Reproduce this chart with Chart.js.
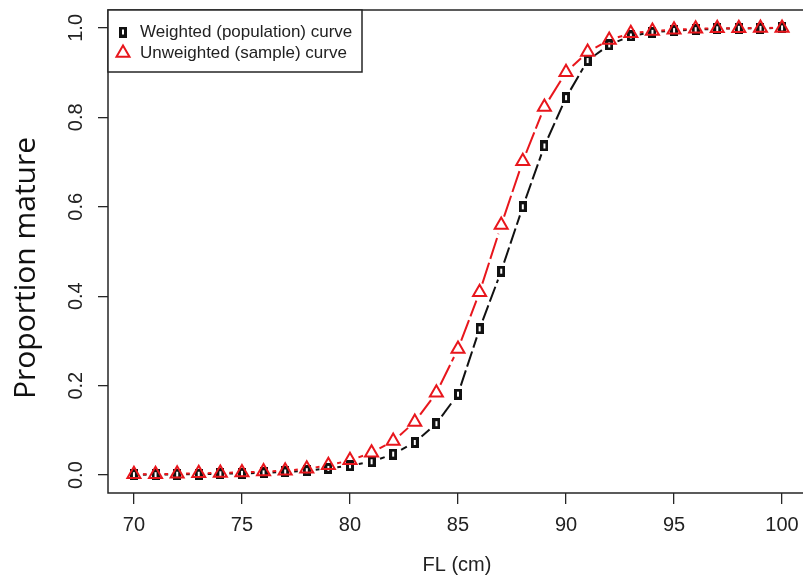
<!DOCTYPE html>
<html>
<head>
<meta charset="utf-8">
<script src="https://cdn.jsdelivr.net/npm/chart.js@4.4.1/dist/chart.umd.min.js"></script>
<style>
  html, body { margin: 0; padding: 0; background: #fff; overflow: hidden; }
  #wrap { width: 803px; height: 579px; }
</style>
</head>
<body>
<div id="wrap"><canvas id="chart" width="803" height="579"></canvas></div>
<script>
// fork length (cm), 70..100
const lengths = [70, 71, 72, 73, 74, 75, 76, 77, 78, 79, 80, 81, 82, 83, 84, 85,
  86, 87, 88, 89, 90, 91, 92, 93, 94, 95, 96, 97, 98, 99, 100];

const weighted = [0.001, 0.001, 0.002, 0.002, 0.003, 0.004, 0.005, 0.007, 0.010, 0.015,
  0.021, 0.030, 0.047, 0.073, 0.115, 0.181, 0.327, 0.456, 0.600, 0.736,
  0.844, 0.927, 0.962, 0.982, 0.990, 0.994, 0.996, 0.998, 0.999, 0.999, 1.000];

const unweighted = [0.002, 0.002, 0.003, 0.004, 0.005, 0.006, 0.008, 0.010, 0.014, 0.022,
  0.033, 0.050, 0.076, 0.119, 0.184, 0.282, 0.409, 0.559, 0.702, 0.823,
  0.901, 0.946, 0.973, 0.988, 0.993, 0.996, 0.998, 0.999, 0.999, 1.000, 1.000];

const xTicks = [70, 75, 80, 85, 90, 95, 100];
const yTicks = [0, 0.2, 0.4, 0.6, 0.8, 1.0];
const yTickLabels = ["0.0", "0.2", "0.4", "0.6", "0.8", "1.0"];

const legendLabels = ["Weighted (population) curve", "Unweighted (sample) curve"];

const RED = "#e8161c";
const BLACK = "#111111";
const AXIS = "#262626";
const TEXT = "#222222";

// tall open square, like R's pch 0 squeezed
const squareMark = document.createElement("canvas");
squareMark.width = 8;
squareMark.height = 11;
(() => {
  const c = squareMark.getContext("2d");
  c.fillStyle = BLACK;
  c.fillRect(0, 0, 8, 11);
  c.fillStyle = "#ffffff";
  c.fillRect(3, 3, 2, 5);
})();

// R type="b": dashed segments that stop short of each point
const gappedLines = {
  id: "gappedLines",
  beforeDatasetsDraw(chart) {
    const { ctx, chartArea } = chart;
    ctx.save();
    ctx.beginPath();
    ctx.rect(chartArea.left, chartArea.top, chartArea.right - chartArea.left, chartArea.bottom - chartArea.top);
    ctx.clip();
    [1, 0].forEach((i) => {
      const ds = chart.data.datasets[i];
      const pts = chart.getDatasetMeta(i).data;
      ctx.strokeStyle = ds.borderColor;
      ctx.lineWidth = 2;
      ctx.setLineDash(ds.segDash);
      const gap = 9;
      for (let j = 0; j < pts.length - 1; j++) {
        const p = pts[j], q = pts[j + 1];
        const dx = q.x - p.x, dy = q.y - p.y;
        const d = Math.hypot(dx, dy);
        if (d <= 2 * gap) continue;
        const ux = dx / d, uy = dy / d;
        ctx.beginPath();
        ctx.moveTo(p.x + ux * gap, p.y + uy * gap);
        ctx.lineTo(q.x - ux * gap, q.y - uy * gap);
        ctx.stroke();
      }
    });
    ctx.restore();
  },
};

const frame = {
  id: "frame",
  afterDraw(chart) {
    const { ctx, chartArea: a, scales } = chart;
    ctx.save();

    // box: the right edge lies just past the picture
    ctx.strokeStyle = AXIS;
    ctx.lineWidth = 1.5;
    ctx.beginPath();
    ctx.moveTo(a.right + 10, a.top);
    ctx.lineTo(a.left, a.top);
    ctx.lineTo(a.left, a.bottom);
    ctx.lineTo(a.right + 10, a.bottom);
    ctx.stroke();

    // x tick labels
    ctx.fillStyle = TEXT;
    ctx.font = "20px 'Liberation Sans', Arial, sans-serif";
    ctx.textAlign = "center";
    ctx.textBaseline = "middle";
    xTicks.forEach((v) => ctx.fillText(String(v), scales.x.getPixelForValue(v), 525));

    // y tick labels, rotated like R's las=0
    yTicks.forEach((v, i) => {
      ctx.save();
      ctx.translate(76, scales.y.getPixelForValue(v));
      ctx.rotate(-Math.PI / 2);
      ctx.fillText(yTickLabels[i], 0, 0);
      ctx.restore();
    });

    // axis titles
    ctx.fillText("FL (cm)", 457, 565);
    ctx.save();
    ctx.translate(35, 268);
    ctx.rotate(-Math.PI / 2);
    ctx.font = "30px 'Open Sans', sans-serif";
    ctx.textBaseline = "alphabetic";
    ctx.fillStyle = "#111";
    ctx.fillText("Proportion mature", 0, 0);
    ctx.restore();

    // legend
    const lx = a.left, ly = a.top, lw = 254, lh = 62;
    ctx.fillStyle = "#fff";
    ctx.fillRect(lx, ly, lw, lh);
    ctx.strokeStyle = AXIS;
    ctx.lineWidth = 1.5;
    ctx.strokeRect(lx, ly, lw, lh);

    ctx.drawImage(squareMark, lx + 15 - 4, ly + 22 - 5.5);
    const tx = lx + 15, ty = ly + 43, r = 7.5;
    ctx.strokeStyle = RED;
    ctx.lineWidth = 2;
    ctx.beginPath();
    ctx.moveTo(tx, ty - r);
    ctx.lineTo(tx + r * Math.sin(Math.PI * 2 / 3), ty - r * Math.cos(Math.PI * 2 / 3));
    ctx.lineTo(tx + r * Math.sin(Math.PI * 4 / 3), ty - r * Math.cos(Math.PI * 4 / 3));
    ctx.closePath();
    ctx.stroke();

    ctx.fillStyle = TEXT;
    ctx.font = "17px 'Liberation Sans', Arial, sans-serif";
    ctx.textAlign = "left";
    ctx.textBaseline = "middle";
    ctx.fillText(legendLabels[0], lx + 32, ly + 22);
    ctx.fillText(legendLabels[1], lx + 32, ly + 43);

    ctx.restore();
  },
};

const toPoints = (vals) => lengths.map((x, i) => ({ x, y: vals[i] }));

new Chart(document.getElementById("chart"), {
  type: "line",
  data: {
    datasets: [
      {
        label: legendLabels[1],
        data: toPoints(unweighted),
        showLine: false,
        borderColor: RED,
        segDash: [22, 4],
        pointStyle: "triangle",
        pointRadius: 7.5,
        pointBorderWidth: 2,
        pointBorderColor: RED,
        pointBackgroundColor: "rgba(0,0,0,0)",
      },
      {
        label: legendLabels[0],
        data: toPoints(weighted),
        showLine: false,
        borderColor: BLACK,
        segDash: [16, 4],
        pointStyle: squareMark,
        pointRadius: 6,
      },
    ],
  },
  options: {
    responsive: false,
    animation: false,
    events: [],
    layout: { autoPadding: false, padding: { top: 10, right: 0, left: 0, bottom: 0 } },
    scales: {
      x: {
        type: "linear",
        min: 68.8,
        max: 100.97,
        afterBuildTicks: (s) => { s.ticks = xTicks.map((v) => ({ value: v })); },
        afterFit: (s) => { s.height = 86; },
        ticks: { display: false },
        border: { display: false },
        grid: { drawOnChartArea: false, drawTicks: true, tickLength: 11, color: AXIS, lineWidth: 1.3 },
      },
      y: {
        min: -0.04,
        max: 1.04,
        afterBuildTicks: (s) => { s.ticks = yTicks.map((v) => ({ value: v })); },
        afterFit: (s) => { s.width = 108; },
        ticks: { display: false },
        border: { display: false },
        grid: { drawOnChartArea: false, drawTicks: true, tickLength: 10, color: AXIS, lineWidth: 1.3 },
      },
    },
    plugins: {
      legend: { display: false },
      tooltip: { enabled: false },
    },
  },
  plugins: [gappedLines, frame],
});
</script>
</body>
</html>
